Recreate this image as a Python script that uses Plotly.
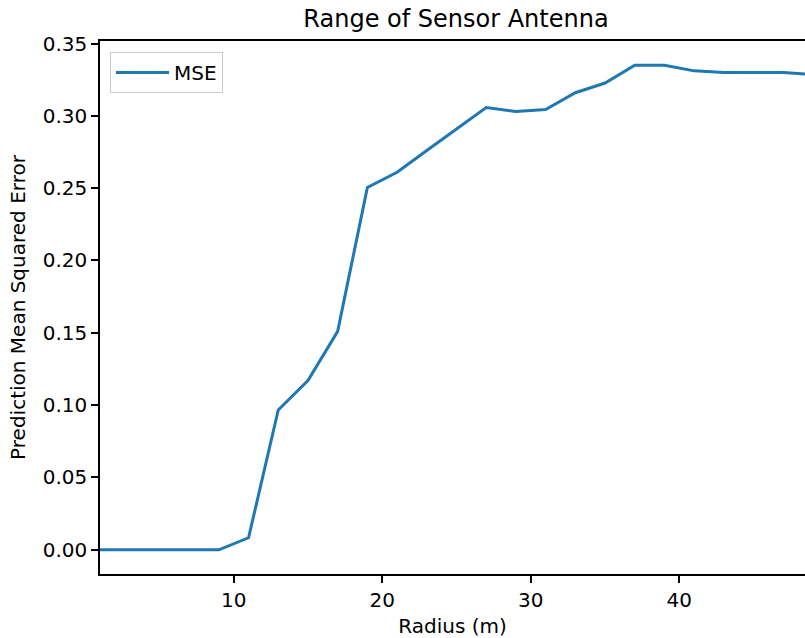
import plotly.graph_objects as go

radius = [1, 3, 5, 7, 9, 11, 13, 15, 17, 19, 21, 23, 25, 27, 29, 31, 33, 35, 37, 39, 41, 43, 45, 47, 49]
mse = [0.0, 0.0, 0.0, 0.0, 0.0, 0.0083, 0.0967, 0.117, 0.151, 0.2505, 0.261, 0.276, 0.291,
       0.3058, 0.303, 0.3044, 0.316, 0.3227, 0.335, 0.335, 0.3311, 0.330, 0.330, 0.330, 0.3285]
x_ticks = [10, 20, 30, 40]
y_ticks = [0.0, 0.05, 0.10, 0.15, 0.20, 0.25, 0.30, 0.35]

FONT = "DejaVu Sans"
W, H = 805, 638
L, R, T, B = 100, 0, 41, 64

fig = go.Figure()
fig.add_trace(go.Scatter(x=radius, y=mse, mode="lines", name="MSE",
                         line=dict(color="#1f77b4", width=3)))

ymin, ymax = -0.01675, 0.35175
fig.update_layout(
    width=W, height=H,
    margin=dict(l=L, r=R, t=T, b=B, pad=0),
    paper_bgcolor="white", plot_bgcolor="white",
    font=dict(family=FONT, size=20, color="black"),
    title=dict(text="Range of Sensor Antenna", font=dict(family=FONT, size=24, color="black"),
               x=456 / W, xref="container", xanchor="center",
               y=1 - 19 / H, yref="container", yanchor="middle"),
    showlegend=True,
    legend=dict(x=(110 - L) / (W - L - R), y=1 - (52 - T) / (H - T - B),
                xanchor="left", yanchor="top", itemwidth=53,
                bordercolor="#cccccc", borderwidth=1, bgcolor="rgba(255,255,255,0.8)",
                font=dict(family=FONT, size=20, color="black")),
    xaxis=dict(range=[1, 48.46], tickvals=x_ticks, ticktext=[str(v) for v in x_ticks],
               showgrid=False, zeroline=False, showline=True, linecolor="black", linewidth=1.6,
               mirror=True, ticks="outside", ticklen=7, tickwidth=1.6, tickcolor="black",
               tickfont=dict(family=FONT, size=20, color="black"),
               title=dict(text="Radius (m)", font=dict(family=FONT, size=20, color="black"), standoff=8)),
    yaxis=dict(range=[ymin, ymax], tickvals=y_ticks, ticktext=[f"{v:.2f}" for v in y_ticks],
               showgrid=False, zeroline=False, showline=True, linecolor="black", linewidth=1.6,
               ticks="outside", ticklen=7, tickwidth=1.6, tickcolor="black",
               tickfont=dict(family=FONT, size=20, color="black"),
               title=dict(text="Prediction Mean Squared Error", font=dict(family=FONT, size=20, color="black"), standoff=12)),
)

fig.write_html("out.html")
